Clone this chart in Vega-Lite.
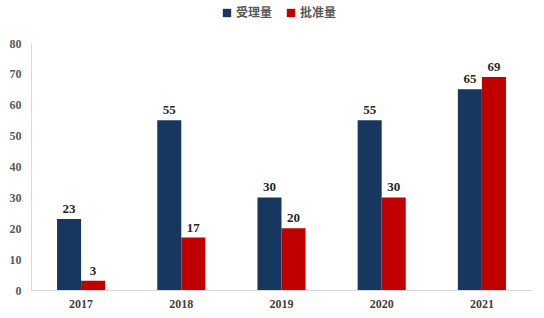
{
  "$schema": "https://vega.github.io/schema/vega-lite/v6.json",
  "width": 501,
  "height": 247,
  "autosize": {"type": "none"},
  "padding": {"left": 31, "top": 43, "right": 12, "bottom": 28},
  "config": {"view": {"stroke": null}, "font": "Liberation Serif"},
  "data": {
    "values": [
      {"year": "2017", "type": "受理量", "value": 23},
      {"year": "2017", "type": "批准量", "value": 3},
      {"year": "2018", "type": "受理量", "value": 55},
      {"year": "2018", "type": "批准量", "value": 17},
      {"year": "2019", "type": "受理量", "value": 30},
      {"year": "2019", "type": "批准量", "value": 20},
      {"year": "2020", "type": "受理量", "value": 55},
      {"year": "2020", "type": "批准量", "value": 30},
      {"year": "2021", "type": "受理量", "value": 65},
      {"year": "2021", "type": "批准量", "value": 69}
    ]
  },
  "encoding": {
    "x": {
      "field": "year", "type": "nominal",
      "scale": {"paddingInner": 0.52, "paddingOuter": 0.26},
      "axis": {"title": null, "labelAngle": 0, "ticks": false, "domainColor": "#d9d9d9", "labelFont": "Liberation Serif", "labelFontWeight": "bold", "labelFontSize": 12, "labelColor": "#404040", "labelPadding": 8}
    },
    "xOffset": {"field": "type", "sort": ["受理量", "批准量"]},
    "y": {
      "field": "value", "type": "quantitative",
      "scale": {"domain": [0, 80]},
      "axis": {"title": null, "values": [0, 10, 20, 30, 40, 50, 60, 70, 80], "grid": false, "ticks": false, "domainColor": "#d9d9d9", "labelFont": "Liberation Serif", "labelFontWeight": "bold", "labelFontSize": 12, "labelColor": "#595959", "labelPadding": 10}
    }
  },
  "layer": [
    {
      "mark": {"type": "bar"},
      "encoding": {
        "color": {
          "field": "type", "type": "nominal",
          "scale": {"domain": ["受理量", "批准量"], "range": ["#17375e", "#c00000"]},
          "legend": {"title": null, "orient": "none", "legendX": 190, "legendY": -36, "direction": "horizontal", "symbolType": "square", "symbolSize": 70, "symbolStrokeWidth": 0, "labelFont": "Noto Sans CJK SC", "labelFontWeight": "bold", "labelFontSize": 12, "labelColor": "#595959", "columnPadding": 12, "labelOffset": 3}
        }
      }
    },
    {
      "mark": {"type": "text", "dy": -10, "fontWeight": "bold", "fontSize": 13, "font": "Liberation Serif"},
      "encoding": {
        "text": {"field": "value", "type": "quantitative"},
        "color": {"value": "#262626"}
      }
    }
  ]
}
